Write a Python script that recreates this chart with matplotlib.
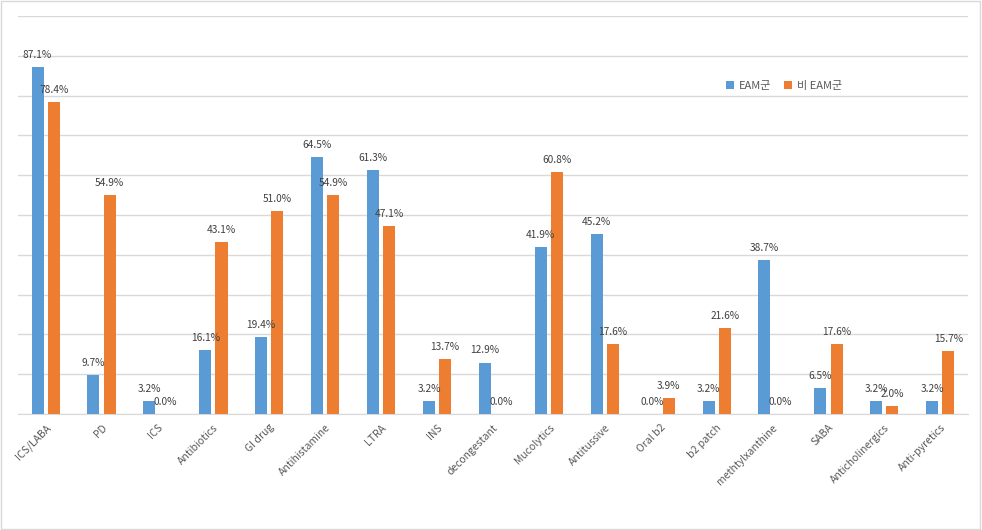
import numpy as np
import matplotlib.pyplot as plt
from matplotlib.patches import Rectangle

plt.rcParams['font.family'] = ['Noto Sans CJK KR', 'DejaVu Sans']

categories = ['ICS/LABA', 'PD', 'ICS', 'Antibiotics', 'GI drug', 'Antihistamine', 'LTRA',
              'INS', 'decongestant', 'Mucolytics', 'Antitussive', 'Oral b2', 'b2 patch',
              'methtylxanthine', 'SABA', 'Anticholinergics', 'Anti-pyretics']
eam = [87.1, 9.7, 3.2, 16.1, 19.4, 64.5, 61.3, 3.2, 12.9, 41.9, 45.2, 0.0, 3.2, 38.7, 6.5, 3.2, 3.2]
non_eam = [78.4, 54.9, 0.0, 43.1, 51.0, 54.9, 47.1, 13.7, 0.0, 60.8, 17.6, 3.9, 21.6, 0.0, 17.6, 2.0, 15.7]

blue = '#5B9BD5'
orange = '#ED7D31'
txt = '#404040'

fig = plt.figure(figsize=(9.82, 5.30), dpi=100)
ax = fig.add_axes([0.018, 0.219, 0.968, 0.751])

x = np.arange(len(categories))
w = 0.215
off = 0.145
b1 = ax.bar(x - off, eam, w, color=blue, label='EAM군', zorder=3)
b2 = ax.bar(x + off, non_eam, w, color=orange, label='비 EAM군', zorder=3)

for bars, vals in ((b1, eam), (b2, non_eam)):
    for r, v in zip(bars, vals):
        ax.text(r.get_x() + r.get_width() / 2, v + 1.8, f'{v:.1f}%', ha='center', va='bottom',
                fontsize=7.3, color=txt, zorder=4)

ax.set_xlim(-0.5, len(categories) - 0.5)
ax.set_ylim(0, 100)
ax.set_yticks(np.arange(0, 101, 10))
ax.set_yticklabels([])
ax.tick_params(axis='y', length=0)
ax.grid(axis='y', color='#D9D9D9', linewidth=1, zorder=0)
for s in ['top', 'right', 'left']:
    ax.spines[s].set_visible(False)
ax.spines['bottom'].set_color('#D9D9D9')
ax.set_xticks(x)
ax.set_xticklabels(categories, rotation=45, ha='right', rotation_mode='anchor', fontsize=7.5, color='#595959')
ax.tick_params(axis='x', length=0, pad=6)

ax.legend(loc='center left', bbox_to_anchor=(0.735, 0.825), ncol=2, frameon=False, fontsize=8,
          handlelength=0.7, handleheight=0.7, columnspacing=1.2, handletextpad=0.4,
          labelcolor='#595959')

fig.patches.append(Rectangle((0.001, 0.001), 0.997, 0.997, transform=fig.transFigure,
                             fill=False, edgecolor='#D9D9D9', linewidth=1))

fig.savefig('out.png', dpi=100)
